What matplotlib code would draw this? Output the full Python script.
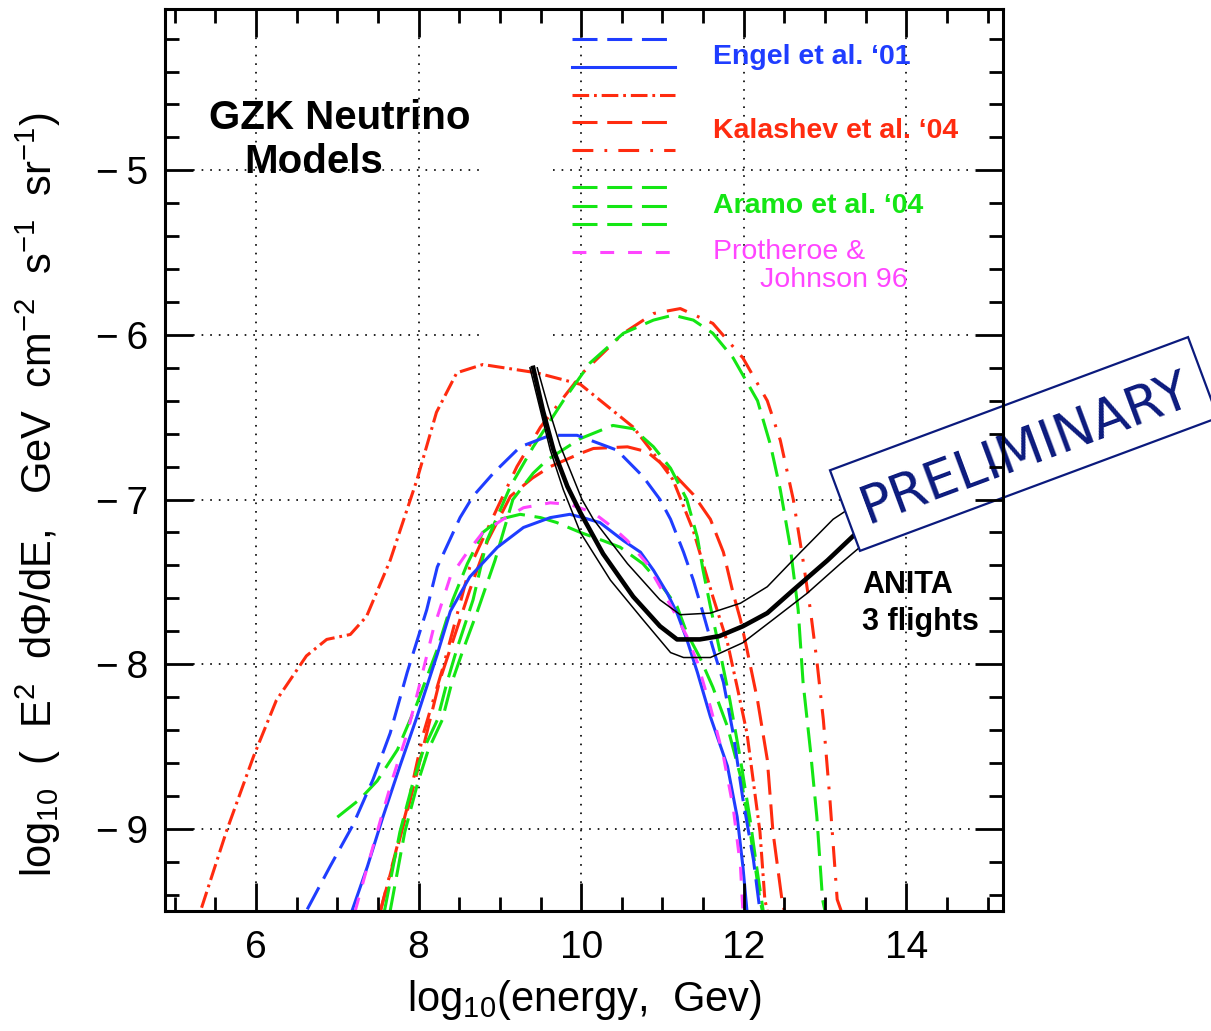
import matplotlib
matplotlib.use("Agg")
import matplotlib.pyplot as plt
import numpy as np
from matplotlib.patches import Polygon
from matplotlib.ticker import MultipleLocator

plt.rcParams["font.family"] = ["Liberation Sans", "DejaVu Sans"]
plt.rcParams["mathtext.fontset"] = "custom"
plt.rcParams["mathtext.rm"] = "Liberation Sans"
plt.rcParams["mathtext.it"] = "Liberation Sans:italic"
plt.rcParams["mathtext.bf"] = "Liberation Sans:bold"
plt.rcParams["lines.scale_dashes"] = False

# --- curves (log10 E [GeV], log10 E^2 dPhi/dE) ---
kal_a_x = [5.33, 5.64, 5.97, 6.25, 6.62, 6.87, 7.16, 7.36, 7.65, 7.98, 8.22, 8.47, 8.79,
           9.45, 9.99, 10.64, 10.89, 11.13, 11.38, 11.62, 11.80, 11.92, 12.04, 12.12,
           12.20, 12.26, 12.29]
kal_a_y = [-9.48, -9.01, -8.56, -8.22, -7.95, -7.85, -7.82, -7.71, -7.37, -6.88, -6.47,
           -6.23, -6.18, -6.23, -6.30, -6.56, -6.72, -6.88, -7.19, -7.59, -7.87, -8.14,
           -8.42, -8.72, -9.02, -9.43, -9.50]

kal_b_x = [7.53, 7.86, 8.06, 8.30, 8.63, 8.97, 9.21, 9.50, 10.02, 10.52, 10.89, 11.22,
           11.62, 11.99, 12.29, 12.45, 12.61, 12.73, 12.82, 12.90, 12.98, 13.06, 13.15, 13.20]
kal_b_y = [-9.50, -8.87, -8.42, -8.02, -7.41, -7.05, -6.80, -6.56, -6.23, -5.99, -5.87,
           -5.84, -5.93, -6.14, -6.40, -6.64, -7.00, -7.37, -7.67, -7.98, -8.34, -8.82,
           -9.43, -9.50]

kal_c_x = [7.53, 7.90, 8.26, 8.63, 8.85, 9.13, 9.40, 9.62, 9.99, 10.15, 10.57, 10.81,
           11.13, 11.38, 11.59, 11.75, 11.87, 11.96, 12.04, 12.17, 12.29, 12.36, 12.47, 12.50]
kal_c_y = [-9.50, -8.82, -8.10, -7.55, -7.25, -6.98, -6.87, -6.80, -6.72, -6.69, -6.68,
           -6.71, -6.84, -6.97, -7.12, -7.32, -7.57, -7.73, -7.91, -8.22, -8.58, -9.02,
           -9.43, -9.50]

aramo1_x = [7.58, 7.77, 7.93, 8.06, 8.23, 8.35, 8.47, 8.67, 8.84, 9.13, 9.41, 9.78, 10.11,
            10.52, 10.89, 11.13, 11.38, 11.62, 11.87, 12.17, 12.33, 12.45, 12.57, 12.67,
            12.73, 12.82, 12.90, 12.97, 13.00]
aramo1_y = [-9.50, -9.02, -8.72, -8.52, -8.34, -8.11, -7.91, -7.61, -7.25, -6.92, -6.68,
            -6.40, -6.17, -5.99, -5.91, -5.88, -5.91, -5.99, -6.14, -6.40, -6.67, -6.94,
            -7.28, -7.67, -8.11, -8.52, -8.93, -9.43, -9.50]

aramo2_x = [7.65, 7.83, 7.99, 8.12, 8.29, 8.41, 8.55, 8.73, 8.94, 9.16, 9.41, 9.58, 9.99,
            10.39, 10.64, 10.89, 11.10, 11.30, 11.43, 11.50, 11.59, 11.71, 11.83, 11.96,
            12.08, 12.17, 12.24]
aramo2_y = [-9.50, -9.02, -8.72, -8.52, -8.34, -8.11, -7.91, -7.67, -7.37, -7.00, -6.84,
            -6.76, -6.63, -6.55, -6.57, -6.68, -6.81, -7.00, -7.23, -7.43, -7.65, -7.93,
            -8.22, -8.58, -8.95, -9.27, -9.50]

aramo3_x = [7.00, 7.28, 7.49, 7.74, 7.98, 8.23, 8.42, 8.60, 8.79, 9.00, 9.25, 9.50, 9.70,
            9.99, 10.27, 10.48, 10.76, 10.97, 11.18, 11.30, 11.46, 11.62, 11.80, 11.96,
            12.08, 12.20, 12.23]
aramo3_y = [-8.93, -8.82, -8.71, -8.52, -8.24, -7.91, -7.61, -7.39, -7.20, -7.12, -7.09,
            -7.11, -7.14, -7.20, -7.25, -7.29, -7.39, -7.51, -7.65, -7.81, -7.96, -8.14,
            -8.38, -8.68, -9.02, -9.43, -9.50]

engel_d_x = [6.63, 6.91, 7.19, 7.44, 7.65, 7.86, 8.10, 8.23, 8.51, 8.67, 8.92, 9.25, 9.62,
             9.95, 10.44, 10.76, 10.97, 11.10, 11.26, 11.38, 11.50, 11.62, 11.75, 11.87,
             11.99, 12.12, 12.20]
engel_d_y = [-9.49, -9.23, -8.98, -8.70, -8.42, -8.05, -7.67, -7.41, -7.11, -6.98, -6.84,
             -6.68, -6.61, -6.61, -6.70, -6.86, -7.00, -7.12, -7.32, -7.49, -7.69, -7.90,
             -8.11, -8.42, -8.82, -9.19, -9.50]

engel_s_x = [7.18, 7.37, 7.56, 7.77, 7.98, 8.23, 8.39, 8.63, 8.97, 9.29, 9.62, 9.86, 10.02,
             10.23, 10.52, 10.73, 10.89, 11.06, 11.18, 11.30, 11.43, 11.59, 11.80, 11.92,
             11.99, 12.04]
engel_s_y = [-9.50, -9.23, -8.93, -8.62, -8.32, -7.94, -7.68, -7.47, -7.29, -7.17, -7.11,
             -7.09, -7.11, -7.14, -7.25, -7.32, -7.43, -7.57, -7.69, -7.85, -8.05, -8.32,
             -8.62, -8.93, -9.23, -9.50]

pj_x = [7.22, 7.37, 7.53, 7.69, 7.86, 8.02, 8.18, 8.39, 8.60, 8.79, 9.04, 9.29, 9.62, 9.86,
        10.15, 10.39, 10.57, 10.81, 10.97, 11.13, 11.30, 11.43, 11.59, 11.75, 11.87, 11.96,
        11.99]
pj_y = [-9.50, -9.23, -8.95, -8.68, -8.42, -8.11, -7.79, -7.47, -7.32, -7.20, -7.12, -7.05,
        -7.02, -7.03, -7.08, -7.17, -7.25, -7.39, -7.53, -7.67, -7.83, -7.99, -8.26, -8.56,
        -8.87, -9.23, -9.50]

anita_x = [9.41, 9.53, 9.66, 9.83, 9.99, 10.27, 10.64, 10.97, 11.18, 11.46, 11.70, 11.99,
           12.29, 12.61, 13.03, 13.50]
anita_y = [-6.20, -6.46, -6.70, -6.92, -7.08, -7.33, -7.59, -7.77, -7.85, -7.85, -7.83,
           -7.77, -7.69, -7.55, -7.37, -7.15]
anita_hi_x = [9.46, 9.59, 9.74, 10.01, 10.15, 10.57, 10.97, 11.22, 11.59, 11.96, 12.29,
              12.70, 13.10, 13.50]
anita_hi_y = [-6.20, -6.43, -6.67, -7.00, -7.12, -7.39, -7.61, -7.70, -7.69, -7.63, -7.53,
              -7.32, -7.12, -6.99]
anita_lo_x = [9.37, 9.50, 9.62, 9.78, 9.99, 10.36, 10.76, 11.10, 11.26, 11.59, 11.99, 12.36,
              12.78, 13.19, 13.50]
anita_lo_y = [-6.20, -6.46, -6.70, -6.94, -7.20, -7.49, -7.73, -7.93, -7.96, -7.96, -7.87,
              -7.73, -7.57, -7.39, -7.26]

x_major = [6, 8, 10, 12, 14]
y_major = [-9, -8, -7, -6, -5]
y_labels = ["\u2212\u20099", "\u2212\u20098", "\u2212\u20097", "\u2212\u20096", "\u2212\u20095"]

BLUE = "#1f3dff"
RED = "#ff2b0f"
GREEN = "#14e614"
MAGENTA = "#ff45ff"
NAVY = "#0b1a7d"

LONG = (18, 7)
DASHDOT_A = (12, 3.5, 2, 3.5)
DASHDOT_B = (15, 8, 2, 8)
SHORT = (10, 10)

W, H = 1211, 1031
fig = plt.figure(figsize=(W / 100, H / 100), dpi=100)
ax = fig.add_axes([165 / W, 1 - 911 / H, 838 / W, 902 / H])
ax.set_xlim(4.88, 15.19)
ax.set_ylim(-9.5, -4.02)

# dotted grid, running between the inward major ticks
gkw = dict(color="#222222", lw=1.4, dashes=(1.2, 5.0), zorder=1)
for xv in x_major:
    ax.axvline(xv, ymin=0.031, ymax=0.969, **gkw)
for yv in y_major:
    if yv in (-5, -6):
        ax.axhline(yv, xmin=0.0334, xmax=0.3795, **gkw)
        ax.axhline(yv, xmin=0.463, xmax=0.9666, **gkw)
    else:
        ax.axhline(yv, xmin=0.0334, xmax=0.9666, **gkw)

lw = 2.2
ax.plot(kal_a_x, kal_a_y, color=RED, lw=lw, dashes=DASHDOT_A)
ax.plot(kal_b_x, kal_b_y, color=RED, lw=lw, dashes=DASHDOT_B)
ax.plot(kal_c_x, kal_c_y, color=RED, lw=lw, dashes=LONG)
for gx, gy in [(aramo1_x, aramo1_y), (aramo2_x, aramo2_y), (aramo3_x, aramo3_y)]:
    ax.plot(gx, gy, color=GREEN, lw=lw, dashes=LONG)
ax.plot(engel_d_x, engel_d_y, color=BLUE, lw=lw, dashes=LONG)
ax.plot(engel_s_x, engel_s_y, color=BLUE, lw=lw)
ax.plot(pj_x, pj_y, color=MAGENTA, lw=lw, dashes=SHORT)
ax.plot(anita_hi_x, anita_hi_y, color="black", lw=1.1)
ax.plot(anita_lo_x, anita_lo_y, color="black", lw=1.1)
ax.plot(anita_x, anita_y, color="black", lw=3.3)

# axes frame and ticks
ax.set_axisbelow(False)
for sp in ax.spines.values():
    sp.set_linewidth(2.2)
ax.set_xticks(x_major)
ax.set_yticks(y_major, labels=y_labels)
ax.xaxis.set_minor_locator(MultipleLocator(0.5))
ax.yaxis.set_minor_locator(MultipleLocator(0.2))
ax.tick_params(which="both", direction="in", top=True, right=True, width=2)
ax.tick_params(which="major", length=20)
ax.tick_params(which="minor", length=10)
ax.tick_params(axis="x", which="major", labelsize=28, pad=14)
ax.tick_params(axis="y", which="major", labelsize=28, pad=12)

# hand-made legend
leg_x = [0.4857, 0.6086]
leg_rows = [
    (0.9667, BLUE, LONG), (0.9357, BLUE, None),
    (0.9047, RED, DASHDOT_A), (0.8747, RED, LONG), (0.8437, RED, DASHDOT_B),
    (0.8027, GREEN, LONG), (0.7816, GREEN, LONG), (0.7616, GREEN, LONG),
    (0.7306, MAGENTA, SHORT),
]
for yy, col, ds in leg_rows:
    kw = dict(color=col, lw=lw, transform=ax.transAxes, clip_on=False)
    if ds is not None:
        kw["dashes"] = ds
    ax.plot(leg_x, [yy, yy], **kw)

fs_leg = 20.5
fig.text(713 / W, 1 - 57 / H, "Engel et al. \u201801", color=BLUE, fontsize=fs_leg,
         fontweight="bold", va="center")
fig.text(713 / W, 1 - 131 / H, "Kalashev et al. \u201804", color=RED, fontsize=fs_leg,
         fontweight="bold", va="center")
fig.text(713 / W, 1 - 206 / H, "Aramo et al. \u201804", color=GREEN, fontsize=fs_leg,
         fontweight="bold", va="center")
fig.text(713 / W, 1 - 252 / H, "Protheroe &", color=MAGENTA, fontsize=fs_leg, va="center")
fig.text(760 / W, 1 - 280 / H, "Johnson 96", color=MAGENTA, fontsize=fs_leg, va="center")

fig.text(340 / W, 1 - 118 / H, "GZK Neutrino", fontsize=29, fontweight="bold",
         ha="center", va="center")
fig.text(314 / W, 1 - 162 / H, "Models", fontsize=29, fontweight="bold",
         ha="center", va="center")
fig.text(862 / W, 1 - 585 / H, "ANITA", fontsize=22, fontweight="bold", va="center")
fig.text(862 / W, 1 - 622 / H, "3 flights", fontsize=22, fontweight="bold", va="center")

fig.text(584 / W, 1 - 1000 / H, r"log$_{10}$(energy,  Gev)", fontsize=30,
         ha="center", va="center")
ylab = (r"log$_{10}$  (  E$^{2}$  d" + "\u03a6" +
        r"/dE,   GeV  cm$^{-2}$  s$^{-1}$  sr$^{-1}$)")
fig.text(38 / W, 1 - 495 / H, ylab, fontsize=30, rotation=90, ha="center", va="center")

# PRELIMINARY stamp (white box, frame and ticks stay on top)
cx, cy, ang, half_l, half_h = 1024, 444, 20.4, 191, 43
u = np.array([np.cos(np.radians(ang)), -np.sin(np.radians(ang))])
v = np.array([np.sin(np.radians(ang)), np.cos(np.radians(ang))])
c = np.array([cx, cy])
corners = [c - half_l * u - half_h * v, c + half_l * u - half_h * v,
           c + half_l * u + half_h * v, c - half_l * u + half_h * v]
corners = [(p[0] / W, 1 - p[1] / H) for p in corners]
ax.add_patch(Polygon(corners, closed=True, facecolor="white", edgecolor=NAVY, lw=1.6,
                     transform=fig.transFigure, clip_on=False, zorder=2.2))
ax.text(1026 / W, 1 - 449 / H, "PRELIMINARY", color=NAVY, fontsize=38,
        family="DejaVu Sans", rotation=ang, rotation_mode="anchor", ha="center",
        va="center", transform=fig.transFigure, clip_on=False, zorder=2.3)

fig.savefig("out.png", dpi=100)
